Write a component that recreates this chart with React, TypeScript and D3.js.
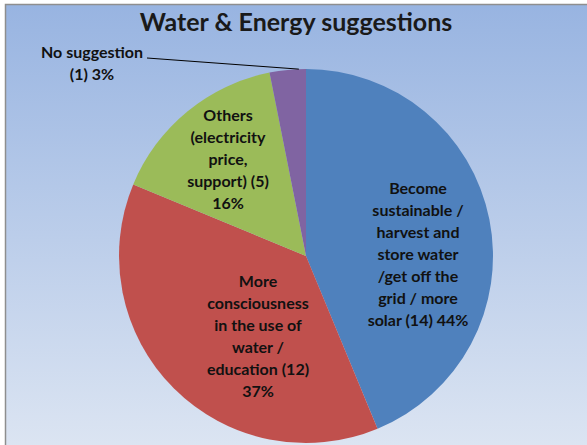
import React from "react";
import * as d3 from "d3";

const categories = [
  "Become sustainable / harvest and store water /get off the grid / more solar",
  "More consciousness in the use of water / education",
  "Others (electricity price, support)",
  "No suggestion",
];
const counts = [14, 12, 5, 1];
const percents = ["44%", "37%", "16%", "3%"];
const colors = ["#4F81BD", "#C0504D", "#9BBB59", "#8064A2"];
const labelLines = [
  ["Become", "sustainable /", "harvest and", "store water", "/get off the", "grid / more", "solar (14) 44%"],
  ["More", "consciousness", "in the use of", "water /", "education (12)", "37%"],
  ["Others", "(electricity", "price,", "support) (5)", "16%"],
  ["No suggestion", "(1) 3%"],
];
const title = "Water & Energy suggestions";

const W = 587;
const H = 445;
const CX = 306;
const CY = 256;
const R = 187;
// label centre offsets from pie centre (layout)
const labelOffsets: [number, number][] = [
  [112, -2],
  [-48, 80],
  [-78, -97],
  [-214, -193],
];
const LINE_H = 22;
const FONT = "Lato, 'Open Sans', sans-serif";

export default function App() {
  const pie = d3.pie<number>().sort(null).value((d) => d);
  const arcs = pie(counts);
  const arc = d3.arc<d3.PieArcDatum<number>>().innerRadius(0).outerRadius(R);
  const purple = arcs[3];
  const leaderEnd = d3.pointRadial((purple.startAngle + purple.endAngle) / 2 + 0.06, R);

  return (
    <div style={{ position: "fixed", left: 0, top: 0 }}>
      <svg width={W} height={H} style={{ display: "block" }}>
        <defs>
          <linearGradient id="bg" x1="0" y1="0" x2="0" y2="1">
            <stop offset="0" stopColor="#98B4E1" />
            <stop offset="1" stopColor="#DFE7F3" />
          </linearGradient>
        </defs>
        <rect x={0} y={0} width={W} height={H} fill="#ffffff" />
        <rect x={5.5} y={4.5} width={W + 20} height={H + 20} fill="url(#bg)" stroke="#8e8e8e" strokeWidth={1.5} />
        <text
          x={296}
          y={31}
          textAnchor="middle"
          fontFamily={FONT}
          fontWeight="bold"
          fontSize={25}
          fill="#1a1a1a"
        >
          {title}
        </text>
        <g transform={`translate(${CX},${CY})`}>
          {arcs.map((a, i) => (
            <path key={categories[i]} d={arc(a) || ""} fill={colors[i]} />
          ))}
          <line
            x1={labelOffsets[3][0] + 55}
            y1={labelOffsets[3][1] - 5}
            x2={leaderEnd[0]}
            y2={leaderEnd[1]}
            stroke="#000"
            strokeWidth={1}
          />
          {labelLines.map((lines, i) => {
            const [ox, oy] = labelOffsets[i];
            const top = oy - ((lines.length - 1) * LINE_H) / 2;
            return (
              <text
                key={i}
                textAnchor="middle"
                fontFamily={FONT}
                fontWeight="bold"
                fontSize={16}
                fill="#111"
              >
                {lines.map((l, j) => (
                  <tspan key={j} x={ox} y={top + j * LINE_H + 5.5}>
                    {l}
                  </tspan>
                ))}
              </text>
            );
          })}
        </g>
      </svg>
    </div>
  );
}
